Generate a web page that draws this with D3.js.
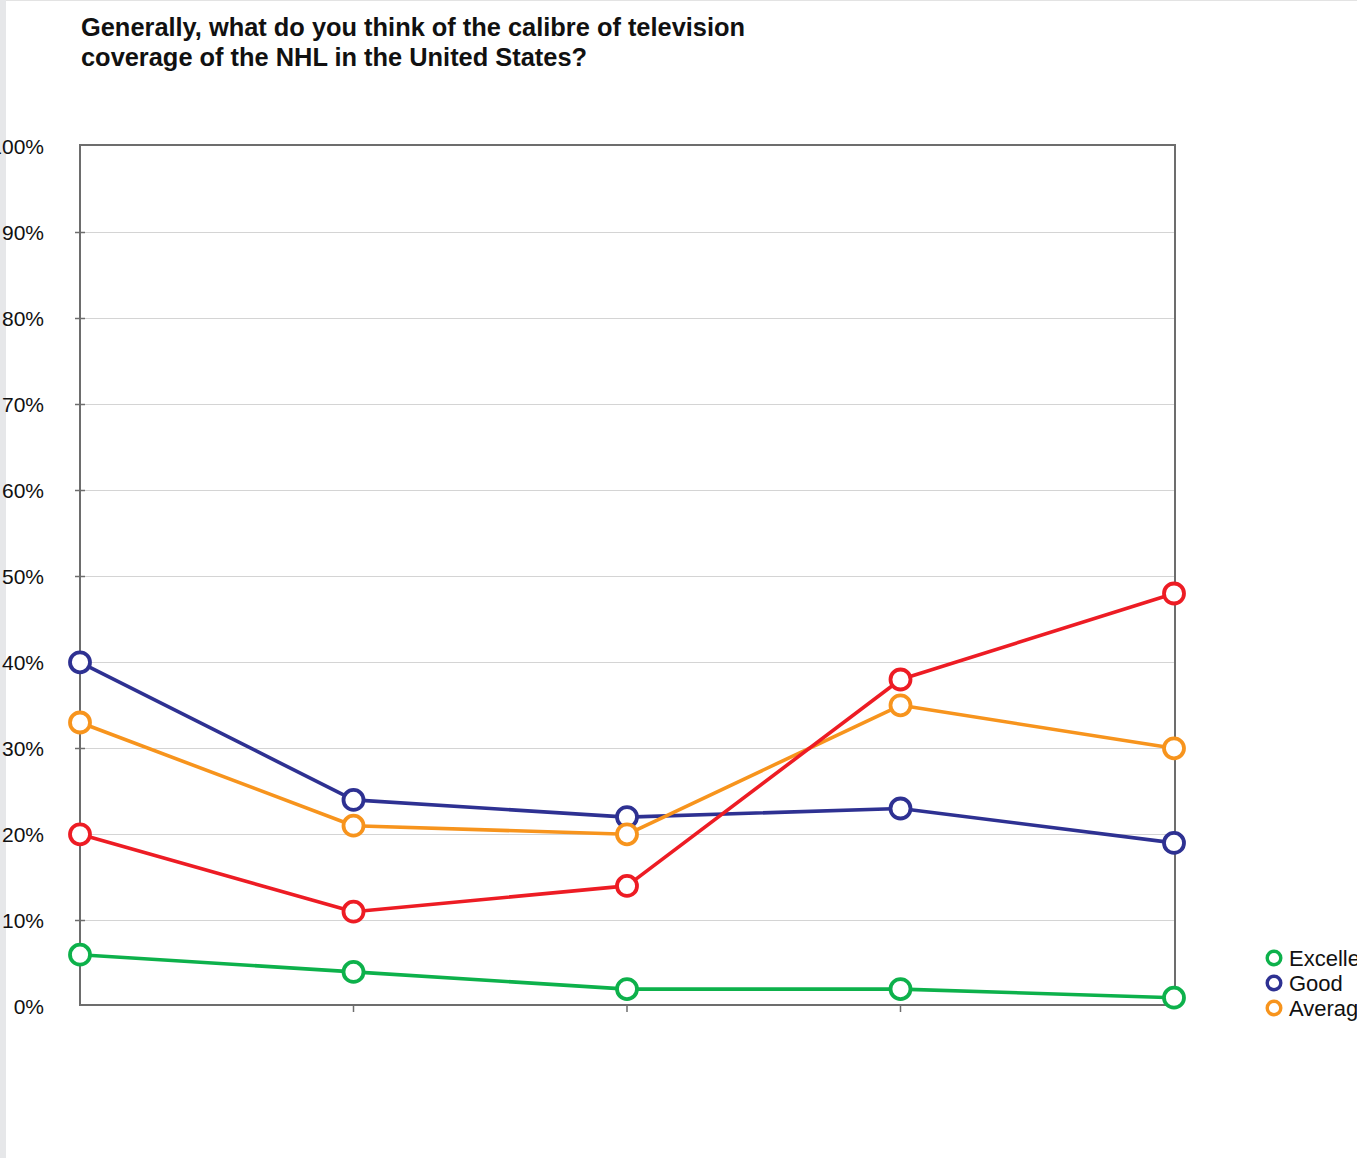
<!DOCTYPE html>
<html>
<head>
<meta charset="utf-8">
<script src="https://cdn.jsdelivr.net/npm/d3@7"></script>
<style>
  body { margin: 0; background: #fff; }
  svg { display: block; font-family: "Liberation Sans", Arial, Helvetica, sans-serif; }
</style>
</head>
<body>
<div id="chart"></div>
<script>
// five survey waves, no labels shown on the x axis
var categories = [0, 1, 2, 3, 4];
var yTicks = [0, 10, 20, 30, 40, 50, 60, 70, 80, 90, 100];

var excellent = [6, 4, 2, 2, 1];
var good = [40, 24, 22, 23, 19];
var average = [33, 21, 20, 35, 30];
var poor = [20, 11, 14, 38, 48];

var seriesNames = ["Excellent", "Good", "Average", "Poor"];
var seriesColors = ["#0db14b", "#2e3192", "#f7941d", "#ed1c24"];
var legendNames = ["Excellent", "Good", "Average"];

(function() {
    var width = 1357, height = 1158,
        plotLeft = 80, plotRight = 1175, plotTop = 145, plotBottom = 1005;

    var svg = d3.select("#chart").append("svg")
        .attr("width", width)
        .attr("height", height);

    // page chrome: grey strip on the left, hairline at the top
    svg.append("rect").attr("x", 0).attr("y", 0).attr("width", 6).attr("height", height).attr("fill", "#e6e7e9");
    svg.append("line").attr("x1", 6).attr("x2", width).attr("y1", 0.5).attr("y2", 0.5)
        .attr("stroke", "#e3e3e3").attr("stroke-width", 1);

    svg.append("text")
        .attr("x", 81).attr("y", 36)
        .attr("font-size", 25.4).attr("font-weight", "bold").attr("fill", "#111")
        .selectAll("tspan")
        .data(["Generally, what do you think of the calibre of television",
               "coverage of the NHL in the United States?"])
        .enter().append("tspan")
        .attr("x", 81)
        .attr("dy", (d, i) => i ? 30 : 0)
        .text(d => d);

    var x = d3.scalePoint().domain(categories).range([plotLeft, plotRight - 1]);
    // values sit a pixel or so under the frame lines in the original
    var y = d3.scaleLinear().domain([0, 100]).range([plotBottom + 1.3, plotTop + 1.3]);

    var inner = yTicks.filter(d => d > 0 && d < 100);

    // gridlines
    svg.append("g").selectAll("line")
        .data(inner)
        .enter().append("line")
        .attr("x1", plotLeft).attr("x2", plotRight)
        .attr("y1", d => Math.round(y(d)) + 0.5).attr("y2", d => Math.round(y(d)) + 0.5)
        .attr("stroke", "#d4d4d4").attr("stroke-width", 1);

    // y tick marks crossing the axis
    svg.append("g").selectAll("line")
        .data(inner)
        .enter().append("line")
        .attr("x1", plotLeft - 5).attr("x2", plotLeft + 5)
        .attr("y1", d => Math.round(y(d)) + 0.5).attr("y2", d => Math.round(y(d)) + 0.5)
        .attr("stroke", "#6d6d6d").attr("stroke-width", 1.5);

    // y labels
    svg.append("g").selectAll("text")
        .data(yTicks)
        .enter().append("text")
        .attr("x", 44)
        .attr("y", d => y(d) + 8)
        .attr("text-anchor", "end")
        .attr("font-size", 21).attr("fill", "#111")
        .text(d => d + "%");

    // x tick marks below the axis
    svg.append("g").selectAll("line")
        .data(categories.slice(1, -1))
        .enter().append("line")
        .attr("x1", d => x(d)).attr("x2", d => x(d))
        .attr("y1", plotBottom).attr("y2", plotBottom + 7)
        .attr("stroke", "#6d6d6d").attr("stroke-width", 1.5);

    // plot frame
    svg.append("rect")
        .attr("x", plotLeft).attr("y", plotTop)
        .attr("width", plotRight - plotLeft).attr("height", plotBottom - plotTop)
        .attr("fill", "none").attr("stroke", "#6d6d6d").attr("stroke-width", 2);

    var line = d3.line()
        .x((d, i) => x(categories[i]))
        .y(d => y(d));

    var series = [excellent, good, average, poor];

    series.forEach(function(values, s) {
        var g = svg.append("g");
        g.append("path")
            .attr("d", line(values))
            .attr("fill", "none")
            .attr("stroke", seriesColors[s])
            .attr("stroke-width", 3.6)
            .attr("stroke-linejoin", "round");
        g.selectAll("circle")
            .data(values)
            .enter().append("circle")
            .attr("cx", (d, i) => x(categories[i]))
            .attr("cy", d => y(d))
            .attr("r", 10)
            .attr("fill", "#fff")
            .attr("stroke", seriesColors[s])
            .attr("stroke-width", 3.8)
            .append("title").text(d => seriesNames[s] + ": " + d + "%");
    });

    // legend (runs off the right edge, as in the original)
    var legend = svg.append("g").selectAll("g")
        .data(legendNames)
        .enter().append("g")
        .attr("transform", (d, i) => `translate(1274, ${958 + i * 25})`);

    legend.append("circle")
        .attr("r", 6.8)
        .attr("fill", "#fff")
        .attr("stroke", (d, i) => seriesColors[i])
        .attr("stroke-width", 3.4);

    legend.append("text")
        .attr("x", 15).attr("y", 8)
        .attr("font-size", 22).attr("fill", "#111")
        .text(d => d);
})();
</script>
</body>
</html>
